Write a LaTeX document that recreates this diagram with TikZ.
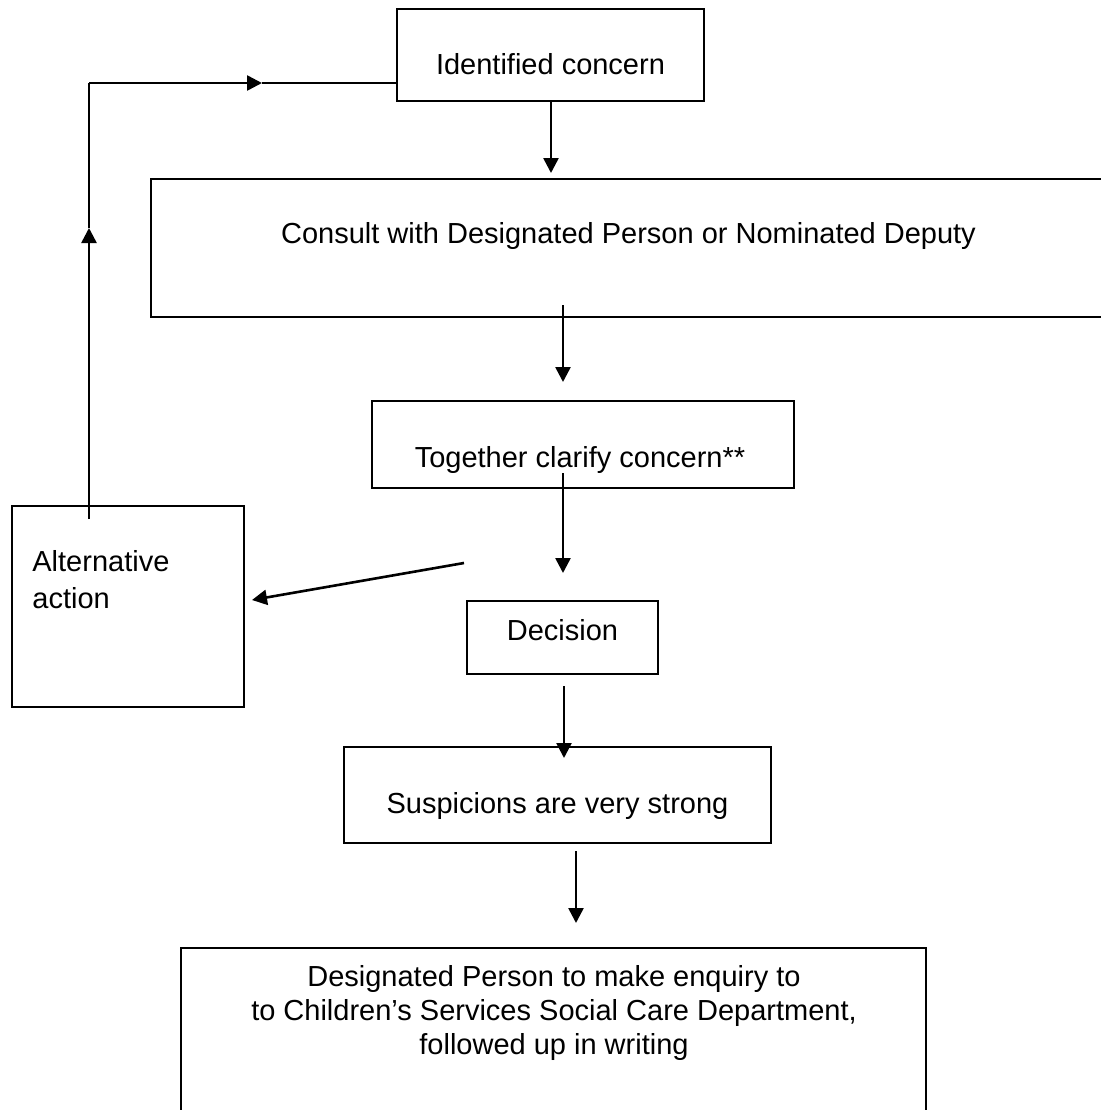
\documentclass[tikz,border=0pt]{standalone}
\usepackage{fontspec}
\setmainfont{Liberation Sans}
\usetikzlibrary{arrows.meta}
\begin{document}
\begin{tikzpicture}[x=0.5pt,y=-0.5pt,
  box/.style={draw, line width=0.9pt, inner sep=0pt},
  boxthick/.style={draw, line width=1.2pt, inner sep=0pt},
  lbl/.style={anchor=base, inner sep=0pt, font=\fontsize{14.5}{17}\selectfont},
  conn/.style={line width=1.3pt, -{Triangle[length=7.5pt,width=7.5pt]}},
  thinline/.style={line width=0.7pt},
  plainline/.style={line width=1.3pt},
]
\useasboundingbox (0,0) rectangle (1101,1110);
\clip (0,0) rectangle (1101,1110);

% boxes
\node[box, minimum width=153.5pt, minimum height=46pt] (ident) at (550.5,55) {};
\node[boxthick, minimum width=477.5pt, minimum height=69pt] (consult) at (628.5,248) {};
\node[box, minimum width=211pt, minimum height=43.5pt] (together) at (583,444.5) {};
\node[box, minimum width=95.5pt, minimum height=36.5pt] (decision) at (562.5,637.5) {};
\node[box, minimum width=213.5pt, minimum height=48pt] (susp) at (557.5,795) {};
\node[boxthick, minimum width=372.5pt, minimum height=88.5pt] (final) at (553.5,1036.5) {};
\node[box, minimum width=116pt, minimum height=100.5pt] (alt) at (128,606.5) {};

% labels
\node[lbl] (tident) at (550.5,74) {Identified concern};
\node[lbl] (tconsult) at (628.5,243) {Consult with Designated Person or Nominated Deputy};
\node[lbl] (ttogether) at (580,467) {Together clarify concern**};
\node[lbl] (tdecision) at (562.5,640) {Decision};
\node[lbl] (tsusp) at (557.5,813) {Suspicions are very strong};
\node[lbl] (tfinal1) at (554,986) {Designated Person to make enquiry to};
\node[lbl] (tfinal2) at (554,1020) {to Children’s Services Social Care Department,};
\node[lbl] (tfinal3) at (554,1054) {followed up in writing};
\node[lbl, anchor=base west] (talt1) at (32,571) {Alternative};
\node[lbl, anchor=base west] (talt2) at (32,608) {action};

% connector coordinates
\coordinate (a1e) at (551,173);
\coordinate (a2s) at (563,305);
\coordinate (a2e) at (563,382);
\coordinate (a3s) at (563,473);
\coordinate (a3e) at (563,573);
\coordinate (dgs) at (464,563);
\coordinate (dge) at (252,600);
\coordinate (a4s) at (564,686);
\coordinate (a4e) at (564,758);
\coordinate (a5s) at (576,851);
\coordinate (a5e) at (576,923);
\coordinate (lp0) at (89,519);
\coordinate (lp1) at (89,228);
\coordinate (lp2) at (89,83);
\coordinate (lp3) at (262,83);
\coordinate (lp4) at (397,83);

% connectors
\draw[conn] (ident.south -| a1e) -- (a1e);
\draw[conn] (a2s) -- (a2e);
\draw[conn] (a3s) -- (a3e);
\draw[conn] (dgs) -- (dge);
\draw[conn] (a4s) -- (a4e);
\draw[conn] (a5s) -- (a5e);
\draw[conn] (lp0) -- (lp1);
\draw[plainline] (lp1) -- (lp2);
\draw[conn] (lp2) -- (lp3);
\draw[thinline] (lp3) -- (lp4);
\end{tikzpicture}
\end{document}
